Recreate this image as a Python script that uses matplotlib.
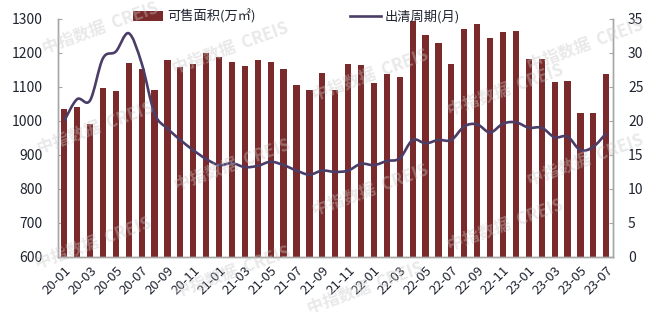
import matplotlib
matplotlib.use('Agg')
import matplotlib.pyplot as plt
from matplotlib.path import Path
from matplotlib.patches import PathPatch
from matplotlib.lines import Line2D
import numpy as np

plt.rcParams['font.family'] = ['Noto Sans CJK SC', 'DejaVu Sans']

# months 20-01 .. 23-07
months = []
for y in range(20, 24):
    for m in range(1, 13):
        months.append('%02d-%02d' % (y, m))
months = months[:43]

# available area (10k m2), left axis
area = [1035, 1040, 990, 1098, 1088, 1170, 1152, 1092, 1180, 1160,
        1167, 1200, 1187, 1174, 1163, 1180, 1174, 1153, 1105, 1092,
        1140, 1090, 1167, 1166, 1113, 1137, 1130, 1295, 1253, 1230,
        1168, 1270, 1285, 1245, 1262, 1266, 1181, 1181, 1114, 1118,
        1023, 1023, 1137]

# clearance period (months), right axis
period = [20.0, 23.2, 23.0, 29.2, 30.2, 32.9, 28.5, 21.1, 18.9, 17.2,
          15.7, 14.4, 13.5, 13.8, 13.2, 13.4, 14.0, 13.5, 12.7, 12.1,
          12.7, 12.5, 12.7, 13.7, 13.5, 14.1, 14.5, 17.2, 16.7, 17.2,
          17.2, 19.2, 19.5, 18.3, 19.6, 19.8, 19.0, 19.0, 17.6, 17.7,
          15.7, 16.2, 18.2]

bar_color = '#7A2A2A'
line_color = '#4A3D68'
text_color = '#1F2430'
spine_color = '#A6A6A6'

x = np.arange(len(months))

fig = plt.figure(figsize=(6.56, 3.16), dpi=100)
ax = fig.add_axes([0.088, 0.187, 0.846, 0.753])
ax2 = ax.twinx()

bars = ax.bar(x, area, width=0.48, color=bar_color, zorder=2)

# smoothed line (bezier through the data points, like the excel "smooth line")
pts = np.column_stack([x, period]).astype(float)
verts = [pts[0]]
codes = [Path.MOVETO]
n = len(pts)
for i in range(n - 1):
    p0 = pts[max(i - 1, 0)]
    p1 = pts[i]
    p2 = pts[i + 1]
    p3 = pts[min(i + 2, n - 1)]
    verts += [p1 + (p2 - p0) / 6, p2 - (p3 - p1) / 6, p2]
    codes += [Path.CURVE4] * 3
ax2.add_patch(PathPatch(Path(verts, codes), facecolor='none', edgecolor=line_color,
                        lw=1.9, joinstyle='round', zorder=3))
line = Line2D([], [], color=line_color, lw=1.9)

ax.set_xlim(-0.5, len(months) - 0.5)
ax.set_ylim(600, 1300)
ax.set_yticks(range(600, 1301, 100))
ax2.set_ylim(0, 35)
ax2.set_yticks(range(0, 36, 5))

ax.set_xticks(x[::2])
ax.set_xticklabels(months[::2], rotation=45, ha='right', rotation_mode='anchor')

for a in (ax, ax2):
    a.spines['top'].set_visible(False)
    for s in ('left', 'right', 'bottom'):
        a.spines[s].set_color(spine_color)
        a.spines[s].set_linewidth(1.0)
    a.tick_params(axis='y', direction='in', length=3, color=spine_color,
                  labelsize=10, labelcolor=text_color, pad=11)
ax.tick_params(axis='x', length=0, labelsize=9.5, labelcolor=text_color, pad=5)
ax2.set_zorder(ax.get_zorder() + 1)
ax2.patch.set_visible(False)

ax.legend([bars, line], ['可售面积(万㎡)', '出清周期(月)'], loc='center',
          bbox_to_anchor=(0.43, 1.01), ncol=2, frameon=False, fontsize=9.5,
          handlelength=2.3, columnspacing=7.2, handletextpad=0.3,
          labelcolor=text_color)

# watermark
marks = [(100, 28), (230, 48), (95, 128), (232, 165), (93, 243), (232, 272),
         (370, 75), (370, 190), (365, 288), (505, 90), (505, 225),
         (585, 45), (585, 160)]
for px, py in marks:
    fig.text(px / 656, 1 - py / 316, '中指数据  CREIS', fontsize=12, fontweight='bold',
             color='#C8C8C8', alpha=0.4, rotation=20, ha='center', va='center',
             zorder=10)

fig.savefig('out.png', dpi=100)
